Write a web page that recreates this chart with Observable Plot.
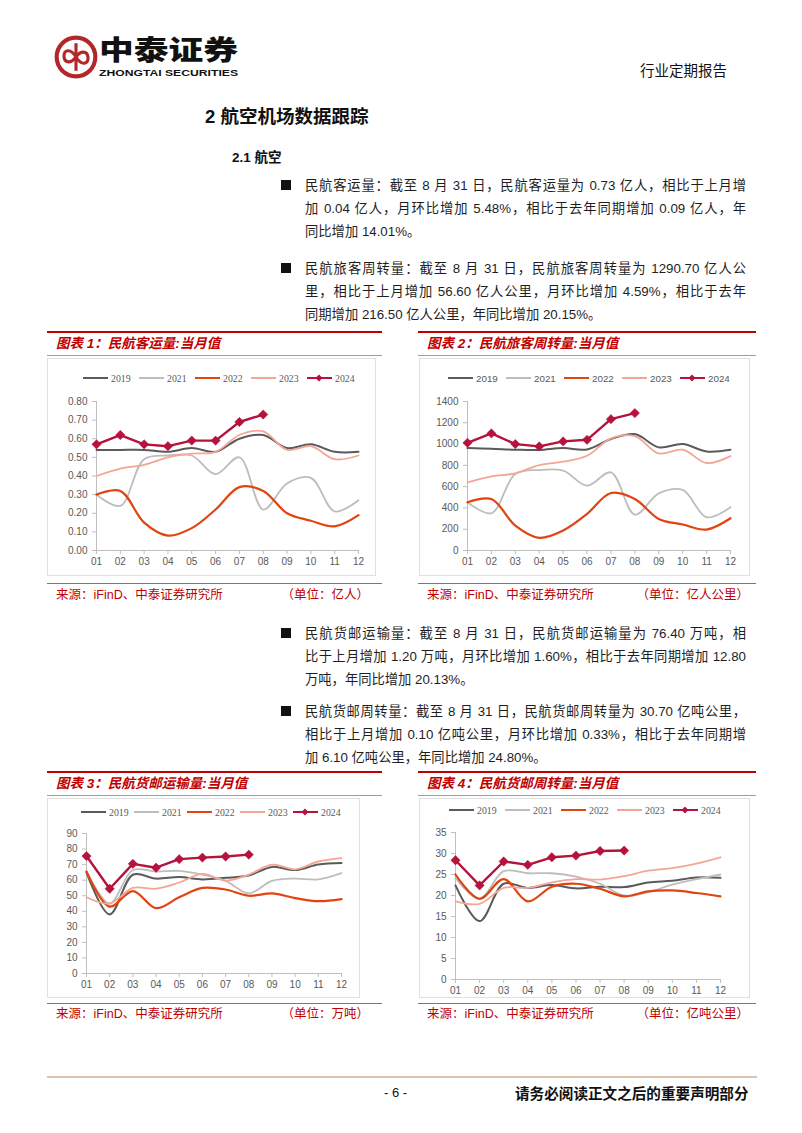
<!DOCTYPE html>
<html><head><meta charset="utf-8">
<script src="https://cdn.jsdelivr.net/npm/d3@7"></script>
<script src="https://cdn.jsdelivr.net/npm/@observablehq/plot@0.6"></script>
<style>
body{margin:0;background:#fff;}
#page{position:relative;width:802px;height:1133px;overflow:hidden;background:#fff;font-family:"Liberation Sans",Arial,"Noto Sans CJK SC",sans-serif;color:#1e1e1e;}
.abs{position:absolute;}
.para{position:absolute;left:305px;width:441px;font-size:13.3px;line-height:23px;}
.para div{text-align:justify;text-align-last:justify;}
.para div.last{text-align-last:left;}
.bullet{position:absolute;left:281px;width:10px;height:10px;background:#111;}
.tbar{position:absolute;height:22px;border-top:2px solid #c00000;border-bottom:1px solid #e08080;}
.ttl{position:absolute;font-size:13.5px;font-weight:bold;font-style:italic;color:#c00000;line-height:22px;white-space:nowrap;}
.frame{position:absolute;border:1px solid #e0e0e0;box-sizing:border-box;}
.srcline{position:absolute;height:0;border-top:1px solid #d65050;}
.src{position:absolute;font-size:12.5px;color:#c00000;white-space:nowrap;line-height:16px;}
.legend{position:absolute;height:12px;font-size:9.8px;color:#595959;}
.legend .it{position:absolute;top:0;display:flex;align-items:center;height:12px;white-space:nowrap;}
.chart{position:absolute;}
</style></head>
<body><div id="page">

<!-- header -->
<svg class="abs" style="left:53px;top:16px" width="200" height="70">
  <g transform="translate(0,18) scale(0.92)">
    <circle cx="25" cy="25" r="21" fill="none" stroke="#b3262a" stroke-width="4.5"/>
    <path d="M25 10 L25 40" stroke="#b3262a" stroke-width="3.4" fill="none"/>
    <path d="M25 25 C19 15, 11 17, 12 25 C13 32, 20 32, 25 25 C30 18, 37 18, 38 25 C39 33, 31 35, 25 25" stroke="#b3262a" stroke-width="3.4" fill="none"/>
  </g>
  <text x="46" y="43.5" textLength="139" lengthAdjust="spacingAndGlyphs" font-family="Noto Sans CJK SC" font-weight="900" font-size="27" fill="#111">中泰证券</text>
  <text x="46" y="60" textLength="139" lengthAdjust="spacingAndGlyphs" font-family="Liberation Sans, Arial" font-weight="bold" font-size="9" fill="#111">ZHONGTAI SECURITIES</text>
</svg>
<div class="abs" style="left:640px;top:61px;font-family:'Noto Sans CJK SC';font-size:14.5px;line-height:18px;color:#111">行业定期报告</div>

<div class="abs" style="left:205px;top:105px;font-size:18.5px;font-weight:bold;line-height:24px;color:#111">2 航空机场数据跟踪</div>
<div class="abs" style="left:232px;top:148px;font-size:13.5px;font-weight:bold;line-height:20px;color:#111">2.1 航空</div>

<div class="bullet" style="top:180px"></div>
<div class="para" style="top:173.5px">
<div>民航客运量：截至 8 月 31 日，民航客运量为 0.73 亿人，相比于上月增</div>
<div>加 0.04 亿人，月环比增加 5.48%，相比于去年同期增加 0.09 亿人，年</div>
<div class="last">同比增加 14.01%。</div>
</div>
<div class="bullet" style="top:263px"></div>
<div class="para" style="top:256.5px">
<div>民航旅客周转量：截至 8 月 31 日，民航旅客周转量为 1290.70 亿人公</div>
<div>里，相比于上月增加 56.60 亿人公里，月环比增加 4.59%，相比于去年</div>
<div class="last">同期增加 216.50 亿人公里，年同比增加 20.15%。</div>
</div>

<!-- chart 1 box -->
<div class="tbar" style="left:47px;width:335px;top:331px"></div>
<div class="ttl" style="left:56px;top:333px">图表 1：民航客运量:当月值</div>
<div class="frame" style="left:47px;top:358px;width:329px;height:218px"></div>
<div class="legend" id="lg1" style="top:372px;font-family:'Liberation Serif','Times New Roman',serif"></div>
<div class="chart" id="c1" style="left:47px;top:388px"></div>
<div class="srcline" style="left:47px;width:335px;top:583px"></div>
<div class="src" style="left:56px;top:587px">来源：iFinD、中泰证券研究所</div>
<div class="src" style="right:433px;top:587px">（单位：亿人）</div>

<!-- chart 2 box -->
<div class="tbar" style="left:418px;width:338px;top:331px"></div>
<div class="ttl" style="left:427px;top:333px">图表 2：民航旅客周转量:当月值</div>
<div class="frame" style="left:419px;top:358px;width:331px;height:218px"></div>
<div class="legend" id="lg2" style="top:372px"></div>
<div class="chart" id="c2" style="left:419px;top:388px"></div>
<div class="srcline" style="left:418px;width:338px;top:583px"></div>
<div class="src" style="left:427px;top:587px">来源：iFinD、中泰证券研究所</div>
<div class="src" style="right:53px;top:587px">（单位：亿人公里）</div>

<div class="bullet" style="top:628px"></div>
<div class="para" style="top:621.5px">
<div>民航货邮运输量：截至 8 月 31 日，民航货邮运输量为 76.40 万吨，相</div>
<div>比于上月增加 1.20 万吨，月环比增加 1.60%，相比于去年同期增加 12.80</div>
<div class="last">万吨，年同比增加 20.13%。</div>
</div>
<div class="bullet" style="top:706px"></div>
<div class="para" style="top:699.5px">
<div>民航货邮周转量：截至 8 月 31 日，民航货邮周转量为 30.70 亿吨公里，</div>
<div>相比于上月增加 0.10 亿吨公里，月环比增加 0.33%，相比于去年同期增</div>
<div class="last">加 6.10 亿吨公里，年同比增加 24.80%。</div>
</div>

<!-- chart 3 box -->
<div class="tbar" style="left:47px;width:335px;top:771px"></div>
<div class="ttl" style="left:56px;top:773px">图表 3：民航货邮运输量:当月值</div>
<div class="frame" style="left:47px;top:798px;width:313px;height:200px"></div>
<div class="legend" id="lg3" style="top:806px;font-family:'Liberation Serif','Times New Roman',serif"></div>
<div class="chart" id="c3" style="left:47px;top:820px"></div>
<div class="srcline" style="left:47px;width:335px;top:1003px"></div>
<div class="src" style="left:56px;top:1006px">来源：iFinD、中泰证券研究所</div>
<div class="src" style="right:433px;top:1006px">（单位：万吨）</div>

<!-- chart 4 box -->
<div class="tbar" style="left:418px;width:338px;top:771px"></div>
<div class="ttl" style="left:427px;top:773px">图表 4：民航货邮周转量:当月值</div>
<div class="frame" style="left:419px;top:798px;width:331px;height:200px"></div>
<div class="legend" id="lg4" style="top:804px;font-family:'Liberation Serif','Times New Roman',serif"></div>
<div class="chart" id="c4" style="left:419px;top:820px"></div>
<div class="srcline" style="left:418px;width:338px;top:1003px"></div>
<div class="src" style="left:427px;top:1006px">来源：iFinD、中泰证券研究所</div>
<div class="src" style="right:53px;top:1006px">（单位：亿吨公里）</div>

<!-- footer -->
<div class="abs" style="left:47px;width:710px;top:1076px;height:0;border-top:2px solid #dcc3ad"></div>
<div class="abs" style="left:384px;top:1085px;font-size:13px;line-height:16px;color:#111">- 6 -</div>
<div class="abs" style="left:515px;top:1084px;font-family:'Noto Sans CJK SC';font-weight:bold;font-size:14.6px;line-height:18px;color:#111">请务必阅读正文之后的重要声明部分</div>

</div>
<script>
// ---------- data ----------
const months = ["01","02","03","04","05","06","07","08","09","10","11","12"];
const seriesYears = ["2019","2021","2022","2023","2024"];
const yearColors = ["#5a5a5a","#bdbdbd","#e2430f","#f5a597","#b5123c"];

// 图表1 民航客运量（亿人）
const pax2019 = [0.54,0.54,0.54,0.53,0.55,0.53,0.60,0.62,0.55,0.57,0.53,0.53];
const pax2021 = [0.30,0.24,0.49,0.51,0.51,0.41,0.50,0.22,0.36,0.39,0.21,0.27];
const pax2022 = [0.30,0.32,0.15,0.08,0.12,0.22,0.34,0.32,0.20,0.16,0.13,0.19];
const pax2023 = [0.40,0.44,0.46,0.50,0.52,0.53,0.62,0.64,0.54,0.56,0.49,0.51];
const pax2024 = [0.57,0.62,0.57,0.56,0.59,0.59,0.69,0.73];
const paxTicks = [0,0.1,0.2,0.3,0.4,0.5,0.6,0.7,0.8];

// 图表2 民航旅客周转量（亿人公里）
const rpk2019 = [962,956,947,944,962,950,1047,1094,969,1000,931,947];
const rpk2021 = [453,350,719,756,750,609,734,337,537,569,312,406];
const rpk2022 = [453,484,234,119,188,344,540,484,297,244,197,303];
const rpk2023 = [640,697,725,803,834,890,1053,1074,912,947,822,887];
const rpk2024 = [1012,1100,1000,978,1025,1040,1234,1291];
const rpkTicks = [0,200,400,600,800,1000,1200,1400];

// 图表3 民航货邮运输量（万吨）
const cargo2019 = [65,38,63.5,61,62,60.5,61.5,63,68.5,66.5,70,71];
const cargo2021 = [66,45,66.5,65.5,66,63.5,59.5,51.5,59.5,61,60.5,64.5];
const cargo2022 = [65.5,43,53,42,49,55,54,50,51.5,48.5,46.5,47.8];
const cargo2023 = [49,45,55,54.5,58.5,64,59.7,63.6,70,67,72,74.2];
const cargo2024 = [75.5,54.5,70.5,68,73.5,74.5,75.2,76.4];
const cargoTicks = [0,10,20,30,40,50,60,70,80,90];

// 图表4 民航货邮周转量（亿吨公里）
const ctk2019 = [22.4,13.9,22.8,21.8,22.5,21.7,22.1,22,23.1,23.5,24.3,24.2];
const ctk2021 = [24.2,19.2,25.8,25.3,25.3,24.5,22.8,20,20.8,22.6,23.9,25];
const ctk2022 = [25,19.2,23.9,18.6,22.1,22.8,21.6,19.8,21,21.2,20.6,19.8];
const ctk2023 = [18.6,18,21.8,21.8,23.1,23.9,23.8,24.6,25.9,26.5,27.6,29.1];
const ctk2024 = [28.4,22.4,28.1,27.3,29.1,29.5,30.6,30.7];
const ctkTicks = [0,5,10,15,20,25,30,35];

// ---------- drawing ----------
const widths = [2, 1.8, 2.2, 1.8, 2.4];

function rows(arrs){
  return seriesYears.flatMap((yr,k)=>arrs[k].map((v,i)=>({month:i+1, value:v, year:yr})));
}

function drawChart(el, arrs, ticks, fmt, dims){
  const data = rows(arrs);
  const marks = [
    Plot.ruleY([0], {stroke:"#bfbfbf", strokeWidth:1}),
    Plot.ruleX([1], {stroke:"#bfbfbf", strokeWidth:1}),
    Plot.axisX({ticks:d3.range(1,13), tickFormat:d=>months[d-1], tickSize:4, tickPadding:3, stroke:"#bfbfbf", fill:"#595959", label:null}),
    Plot.axisY({ticks:ticks, tickFormat:fmt, tickSize:4, tickPadding:5, stroke:"#bfbfbf", fill:"#595959", label:null})
  ];
  seriesYears.forEach((yr,k)=>{
    const d = data.filter(r=>r.year===yr);
    marks.push(Plot.line(d, {x:"month", y:"value", stroke:yearColors[k], strokeWidth:widths[k],
      curve: yr==="2024" ? "linear" : "catmull-rom"}));
    if (yr==="2024") marks.push(Plot.dot(d, {x:"month", y:"value", symbol:"diamond2", r:4.2, fill:yearColors[k], stroke:yearColors[k], strokeWidth:0.5}));
  });
  const svg = Plot.plot({
    width:dims.w, height:dims.h,
    marginLeft:dims.ml, marginRight:dims.mr, marginTop:dims.mt, marginBottom:dims.mb,
    style:{fontFamily:"Liberation Sans, Arial, sans-serif", fontSize:"10px", background:"transparent", overflow:"visible", color:"#595959"},
    x:{domain:[1,12]},
    y:{domain:[ticks[0], ticks[ticks.length-1]]},
    marks
  });
  document.getElementById(el).appendChild(svg);
}

function drawLegend(el, left, step){
  const box = document.getElementById(el);
  seriesYears.forEach((yr,k)=>{
    const it = document.createElement("div");
    it.className = "it";
    it.style.left = (left + k*step) + "px";
    const dia = yr==="2024" ? `<path d="M12 0.5 L15.5 4 L12 7.5 L8.5 4 Z" fill="${yearColors[k]}"/>` : "";
    it.innerHTML = `<svg width="25" height="8" style="margin-right:3px"><line x1="0" x2="25" y1="4" y2="4" stroke="${yearColors[k]}" stroke-width="2"/>${dia}</svg><span>${yr}</span>`;
    box.appendChild(it);
  });
}

const f2 = d3.format(".2f");
drawChart("c1", [pax2019,pax2021,pax2022,pax2023,pax2024], paxTicks, f2, {w:328,h:184,ml:49,mr:17,mt:13,mb:22});
drawChart("c2", [rpk2019,rpk2021,rpk2022,rpk2023,rpk2024], rpkTicks, d=>String(d), {w:330,h:184,ml:48,mr:19,mt:13,mb:22});
drawChart("c3", [cargo2019,cargo2021,cargo2022,cargo2023,cargo2024], cargoTicks, d=>String(d), {w:312,h:175,ml:39,mr:18,mt:13,mb:22});
drawChart("c4", [ctk2019,ctk2021,ctk2022,ctk2023,ctk2024], ctkTicks, d=>String(d), {w:330,h:181,ml:36,mr:29,mt:12,mb:22});

drawLegend("lg1", 83, 56);
drawLegend("lg2", 448, 58);
drawLegend("lg3", 81, 53);
drawLegend("lg4", 449, 56);
</script>
</body></html>
